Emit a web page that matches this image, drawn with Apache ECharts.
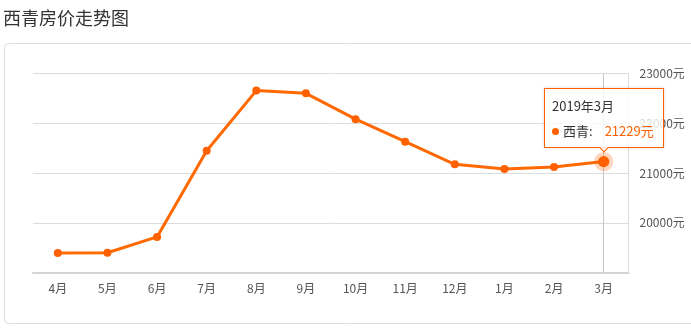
<!DOCTYPE html>
<html>
<head>
<meta charset="utf-8">
<script src="https://cdn.jsdelivr.net/npm/echarts@6/dist/echarts.min.js"></script>
<style>
html,body{margin:0;padding:0;background:#fff;}
#chart{width:691px;height:328px;}
</style>
</head>
<body>
<div id="chart"></div>
<script>
var titleText = '西青房价走势图';
var seriesName = '西青';
var categories = ['4月','5月','6月','7月','8月','9月','10月','11月','12月','1月','2月','3月'];
var periods = ['2018年4月','2018年5月','2018年6月','2018年7月','2018年8月','2018年9月','2018年10月','2018年11月','2018年12月','2019年1月','2019年2月','2019年3月'];
var prices = [19392, 19398, 19715, 21446, 22656, 22602, 22082, 21630, 21174, 21080, 21120, 21229];
var yMin = 19000, yMax = 23000, yStep = 1000;
var unit = '元';

var FONT = '"Noto Sans CJK SC", "Noto Sans", sans-serif';
var ORANGE = '#ff6000';
var chart = echarts.init(document.getElementById('chart'), null, {renderer:'canvas'});
var lastIdx = prices.length - 1;
chart.setOption({
  animation: false,
  textStyle: {fontFamily: FONT},
  title: {
    text: titleText, left: -2, top: 4,
    textStyle: {fontSize: 18, fontWeight: 'normal', color: '#333', fontFamily: FONT}
  },
  graphic: [{
    type: 'rect', silent: true, z: -10,
    shape: {x: 4.5, y: 43.5, width: 700, height: 280, r: 4},
    style: {fill: '#fff', stroke: '#dcdcdc', lineWidth: 1}
  }],
  grid: {left: 33, right: 62.5, top: 73.5, bottom: 55.5},
  tooltip: {
    trigger: 'item',
    position: 'top',
    alwaysShowContent: true,
    backgroundColor: 'rgba(255,255,255,0.8)',
    borderColor: ORANGE,
    borderWidth: 1,
    borderRadius: 0,
    padding: [4, 9, 4, 7],
    extraCssText: 'box-shadow:0 0 3px rgba(0,0,0,0.15);',
    textStyle: {fontFamily: FONT, fontSize: 13, color: '#333'},
    formatter: function (p) {
      return '<div style="line-height:25px;font-size:13px;color:#333;font-family:' + FONT.replace(/"/g, "'") + '">' +
        '<div>' + periods[p.dataIndex] + '</div>' +
        '<div><span style="display:inline-block;width:7px;height:7px;border-radius:50%;background:' + ORANGE + ';margin-right:4px;vertical-align:1px"></span>' +
        p.seriesName + ':<span style="color:' + ORANGE + ';margin-left:12px">' + p.value + unit + '</span></div></div>';
    }
  },
  xAxis: {
    type: 'category',
    data: categories,
    boundaryGap: true,
    axisLine: {lineStyle: {color: '#d4d4d4', width: 2}},
    axisTick: {alignWithLabel: true, length: 4, lineStyle: {color: '#d4d4d4'}},
    axisLabel: {color: '#555', fontSize: 12, margin: 10, fontFamily: FONT},
    splitLine: {show: false},
    axisPointer: {
      show: true, value: lastIdx, status: 'show', type: 'line', triggerTooltip: false, z: 1,
      lineStyle: {color: '#c8c8c8', width: 1, type: 'solid'},
      label: {show: false}
    }
  },
  yAxis: {
    type: 'value',
    position: 'right',
    min: yMin, max: yMax, interval: yStep,
    axisLine: {show: true, lineStyle: {color: '#dcdcdc', width: 1}},
    axisTick: {show: false},
    axisLabel: {
      color: '#555', fontSize: 12, margin: 11, fontFamily: FONT,
      formatter: function (v) { return v === yMin ? '' : v + unit; }
    },
    splitLine: {lineStyle: {color: '#dcdcdc', width: 1}}
  },
  series: [{
    name: seriesName,
    type: 'line',
    data: prices,
    z: 5,
    symbol: 'circle',
    symbolSize: 8,
    lineStyle: {color: ORANGE, width: 3},
    itemStyle: {color: ORANGE},
    emphasis: {
      scale: 1.4,
      itemStyle: {color: ORANGE, borderColor: 'rgba(255,96,0,0.25)', borderWidth: 8}
    }
  }]
});
chart.dispatchAction({type: 'highlight', seriesIndex: 0, dataIndex: lastIdx});
chart.dispatchAction({type: 'showTip', seriesIndex: 0, dataIndex: lastIdx});
</script>
</body>
</html>
